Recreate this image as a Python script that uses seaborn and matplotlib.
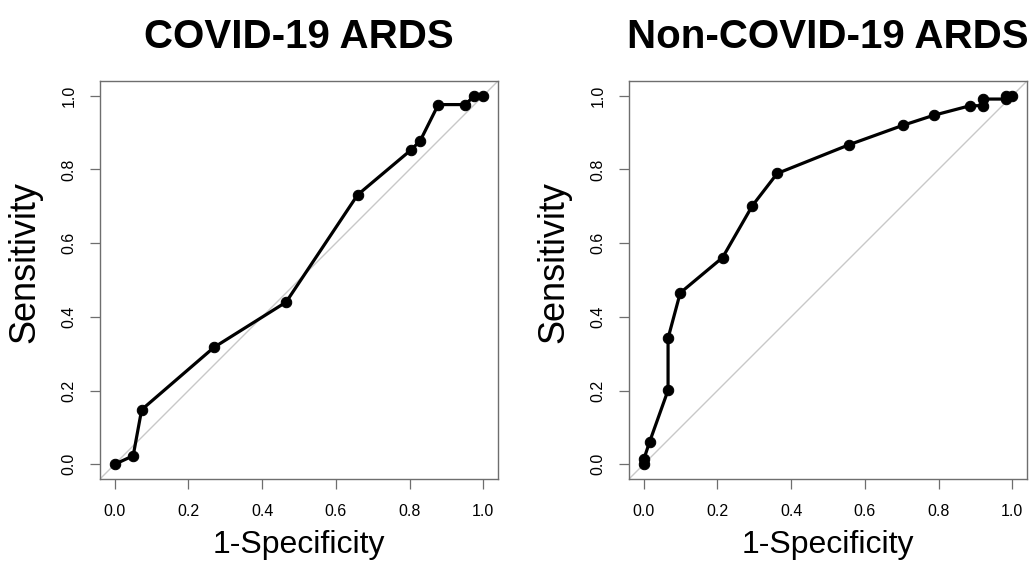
import matplotlib
matplotlib.use("Agg")
import matplotlib.pyplot as plt
import seaborn as sns
import pandas as pd

# ROC points (1-Specificity, Sensitivity)
fpr_covid = [0.0, 0.050, 0.073, 0.269, 0.465, 0.659, 0.804, 0.829, 0.878, 0.951, 0.976, 1.0]
tpr_covid = [0.0, 0.023, 0.148, 0.317, 0.440, 0.731, 0.853, 0.878, 0.976, 0.976, 1.0, 1.0]

fpr_non = [0.0, 0.0, 0.016, 0.066, 0.066, 0.099, 0.214, 0.295, 0.362, 0.557,
           0.704, 0.787, 0.886, 0.920, 0.920, 0.984, 0.984, 1.0]
tpr_non = [0.0, 0.013, 0.061, 0.201, 0.342, 0.465, 0.561, 0.702, 0.789, 0.867,
           0.920, 0.947, 0.973, 0.973, 0.991, 0.991, 1.0, 1.0]

titles = ["COVID-19 ARDS", "Non-COVID-19 ARDS"]
tick_values = [0.0, 0.2, 0.4, 0.6, 0.8, 1.0]
tick_labels = ["0.0", "0.2", "0.4", "0.6", "0.8", "1.0"]

sns.set_style("white")
plt.rcParams["font.family"] = ["Liberation Sans", "DejaVu Sans"]
plt.rcParams["text.color"] = "black"
plt.rcParams["axes.labelcolor"] = "black"

fig = plt.figure(figsize=(10.33, 5.61), dpi=100)
ax_left = fig.add_axes([100 / 1033, 1 - 479 / 561, 398 / 1033, 398 / 561])
ax_right = fig.add_axes([629 / 1033, 1 - 479 / 561, 398 / 1033, 398 / 561])

panels = [
    (ax_left, fpr_covid, tpr_covid, titles[0]),
    (ax_right, fpr_non, tpr_non, titles[1]),
]

frame_col = "#6e6e6e"

for ax, fpr, tpr, title in panels:
    df = pd.DataFrame({"fpr": fpr, "tpr": tpr})
    # chance line
    ax.axline((0, 0), (1, 1), color="#c8c8c8", lw=1.0, zorder=1)
    sns.lineplot(data=df, x="fpr", y="tpr", sort=False, estimator=None,
                 color="black", lw=2.3, marker="o", markersize=7.5,
                 markeredgecolor="black", markerfacecolor="black", ax=ax, zorder=3)

    ax.set_xlim(-0.04, 1.04)
    ax.set_ylim(-0.04, 1.04)
    ax.set_xticks(tick_values)
    ax.set_xticklabels(tick_labels)
    ax.set_yticks(tick_values)
    ax.set_yticklabels(tick_labels, rotation=90, va="center")

    ax.tick_params(axis="both", which="both", direction="out", length=7.2,
                   width=0.9, color=frame_col, labelsize=11.5, labelcolor="black",
                   bottom=True, left=True)
    ax.tick_params(axis="x", pad=10.5)
    ax.tick_params(axis="y", pad=9.5)

    for side in ["top", "bottom", "left", "right"]:
        ax.spines[side].set_visible(True)
        ax.spines[side].set_color(frame_col)
        ax.spines[side].set_linewidth(1.0)

    ax.set_xlabel("1-Specificity", fontsize=23)
    ax.xaxis.label.set_va("baseline")
    ax.xaxis.set_label_coords(0.5, (479 - 553) / 398)

    ax.set_ylabel("Sensitivity", fontsize=26)
    ax.yaxis.set_label_coords((42 - 100) / 398, 0.545)

    ax.set_title(title, fontsize=29, fontweight="bold", color="black",
                 y=(479 - 48) / 398, pad=0)
    ax.grid(False)

fig.savefig("out.png", dpi=100, facecolor="white")
